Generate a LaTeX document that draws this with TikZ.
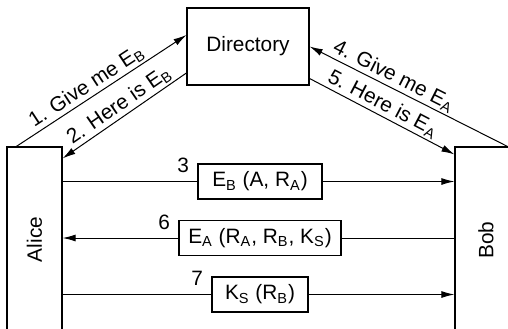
\documentclass[tikz,border=0pt]{standalone}
\usepackage{fontspec}
\setmainfont{Liberation Sans}
\usetikzlibrary{arrows.meta}

\begin{document}
\begin{tikzpicture}[x=0.5pt, y=-0.5pt,
    font=\fontsize{10.4}{12}\selectfont,
    party/.style={draw, line width=0.6pt, inner sep=0pt},
    msgbox/.style={draw, fill=white, line width=0.6pt, minimum height=17.5pt, inner sep=2pt},
    msgnum/.style={anchor=east, inner sep=0pt, xshift=-4pt, yshift=-1pt},
    msg/.style={line width=0.5pt, -{Latex[length=6.5pt,width=3.5pt]}},
    lbl/.style={above, sloped, inner sep=1pt}]
  % Frame of the picture, boxes run out of it
  \useasboundingbox (0,0) rectangle (508,328);
  \clip (0,0) rectangle (508,328);

  % The three parties
  \node[party, minimum width=61pt, minimum height=38.5pt] (Directory) at (248,46.5) {Directory};
  \node[party, minimum width=27.5pt, minimum height=92.5pt] (Alice) at (34.5,239.5) {\rotatebox{90}{Alice}};
  \node[party, minimum width=31pt, minimum height=93pt] (Bob) at (486,240) {\rotatebox{90}{Bob}};

  % Talking to the directory
  \draw[msg] ([xshift=5pt]Alice.north west) -- node[lbl, pos=0.45] {1. Give me E\textsubscript{B}} ([yshift=5.75pt]Directory.west);
  \draw[msg, {Latex[length=6.5pt,width=3.5pt]}-] ([yshift=-6pt]Alice.north east) -- node[lbl, pos=0.51] {2. Here is E\textsubscript{B}} ([yshift=-13.25pt]Directory.west);
  \draw[msg, {Latex[length=6.5pt,width=3.5pt]}-] (Directory.east) -- node[lbl, pos=0.40] {4. Give me E\textsubscript{A}} ([xshift=26.5pt]Bob.north west);
  \draw[msg] ([yshift=-16pt]Directory.east) -- node[lbl, pos=0.47] {5. Here is E\textsubscript{A}} ([yshift=-4pt]Bob.north west);

  % Messages between Alice and Bob
  \node[msgbox, minimum width=62pt] (m3) at (260,181.5) {E\textsubscript{B} (A, R\textsubscript{A})};
  \node[msgbox, minimum width=81pt] (m6) at (260,238) {E\textsubscript{A} (R\textsubscript{A}, R\textsubscript{B}, K\textsubscript{S})};
  \node[msgbox, minimum width=48pt] (m7) at (260,294.5) {K\textsubscript{S} (R\textsubscript{B})};
  \node[msgnum] (n3) at (m3.north west) {3};
  \node[msgnum] (n6) at (m6.north west) {6};
  \node[msgnum] (n7) at (m7.north west) {7};

  \draw[line width=0.5pt] (m3.west -| Alice.east) -- (m3.west);
  \draw[msg] (m3.east) -- (m3.east -| Bob.west);
  \draw[line width=0.5pt] (m6.east) -- (m6.east -| Bob.west);
  \draw[msg] (m6.west) -- (m6.west -| Alice.east);
  \draw[line width=0.5pt] (m7.west -| Alice.east) -- (m7.west);
  \draw[msg] (m7.east) -- (m7.east -| Bob.west);
\end{tikzpicture}
\end{document}
